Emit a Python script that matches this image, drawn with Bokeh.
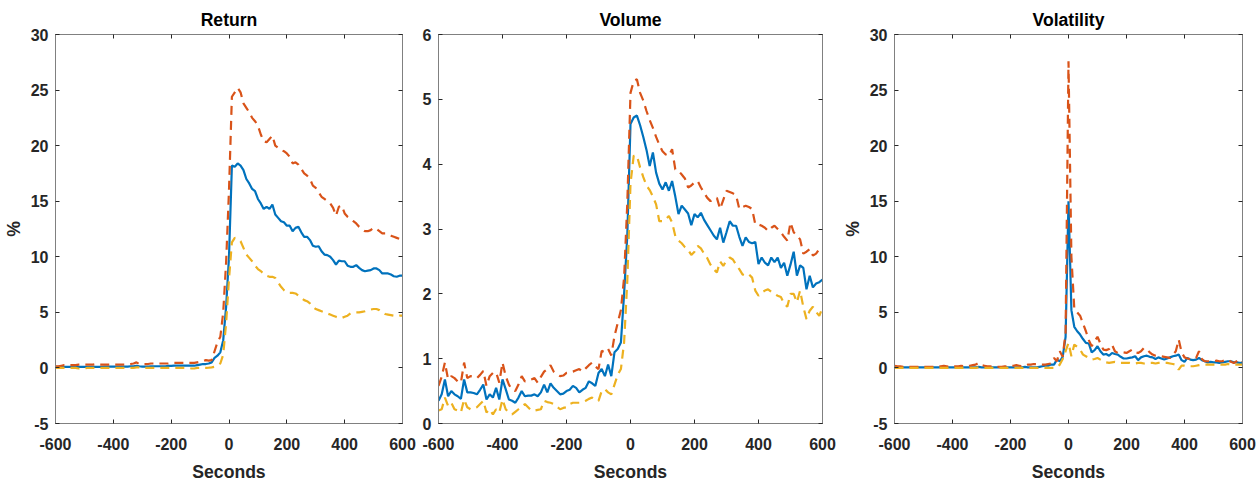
from bokeh.plotting import figure
from bokeh.layouts import row
from bokeh.models import LinearAxis, FixedTicker, Range1d, CustomJSTickFormatter
from bokeh.embed import file_html
from bokeh.resources import INLINE

# ---------------- data ----------------
seconds = list(range(-600, 601, 10))

x_ticks = [-600, -400, -200, 0, 200, 400, 600]
pct_ticks = [-5, 0, 5, 10, 15, 20, 25, 30]
vol_ticks = [0, 1, 2, 3, 4, 5, 6]

titles = ["Return", "Volume", "Volatility"]

return_mean = [
    0.10, 0.10, 0.10, 0.10, 0.10, 0.10, 0.10, 0.10, 0.10, 0.10,
    0.10, 0.10, 0.10, 0.10, 0.10, 0.10, 0.10, 0.12, 0.12, 0.12,
    0.12, 0.12, 0.12, 0.12, 0.12, 0.12, 0.15, 0.15, 0.20, 0.15,
    0.12, 0.12, 0.12, 0.15, 0.15, 0.15, 0.15, 0.15, 0.15, 0.18,
    0.18, 0.20, 0.20, 0.20, 0.20, 0.20, 0.20, 0.20, 0.20, 0.25,
    0.30, 0.35, 0.35, 0.40, 0.50, 0.90, 1.10, 1.40, 2.50, 5.50,
    10.0, 18.2, 18.1, 18.4, 18.2, 17.8, 17.0, 16.6, 16.1, 15.9,
    15.2, 14.8, 14.3, 14.5, 14.3, 14.7, 13.8, 13.5, 13.2, 13.1,
    12.8, 12.8, 12.3, 12.6, 12.7, 12.2, 11.8, 11.8, 11.5, 11.0,
    10.9, 10.95, 10.5, 10.2, 10.15, 10.0, 9.7, 9.3, 9.65, 9.6,
    9.6, 9.2, 9.1, 9.1, 9.25, 9.0, 8.8, 8.7, 8.75, 8.8,
    8.95, 8.95, 8.8, 8.5, 8.5, 8.5, 8.4, 8.25, 8.2, 8.3, 8.3,
]
return_upper = [
    0.15, 0.15, 0.20, 0.25, 0.25, 0.25, 0.25, 0.25, 0.30, 0.30,
    0.30, 0.30, 0.30, 0.30, 0.35, 0.30, 0.30, 0.30, 0.30, 0.30,
    0.30, 0.30, 0.30, 0.30, 0.30, 0.30, 0.35, 0.40, 0.50, 0.35,
    0.35, 0.35, 0.35, 0.40, 0.40, 0.40, 0.40, 0.40, 0.40, 0.40,
    0.45, 0.45, 0.45, 0.45, 0.45, 0.45, 0.45, 0.45, 0.45, 0.50,
    0.55, 0.60, 0.70, 0.65, 0.70, 1.50, 2.30, 2.80, 5.00, 9.50,
    16.0, 24.4, 24.8, 25.2, 24.8, 23.8, 23.4, 23.0, 22.5, 22.2,
    21.8, 21.0, 20.4, 20.3, 20.6, 20.9, 20.0, 19.8, 19.6, 19.5,
    19.3, 19.0, 18.4, 18.5, 18.3, 17.9, 17.5, 17.3, 17.0, 16.4,
    16.2, 15.8, 15.4, 15.2, 15.0, 14.8, 14.4, 13.7, 14.5, 14.6,
    13.9, 13.6, 13.4, 13.2, 13.0, 12.7, 12.5, 12.3, 12.3, 12.4,
    12.6, 12.5, 12.3, 12.1, 12.1, 12.0, 11.9, 11.8, 11.7, 11.6, 11.7,
]
return_lower = [
    0.00, 0.00, 0.00, 0.00, 0.00, 0.00, 0.00, 0.00, -0.05, -0.05,
    -0.05, 0.00, 0.00, 0.00, 0.00, 0.00, 0.00, 0.00, 0.00, 0.00,
    0.00, 0.00, 0.00, 0.00, 0.00, 0.00, 0.00, 0.00, 0.05, 0.05,
    0.00, 0.00, 0.00, 0.00, 0.00, 0.00, 0.00, 0.00, 0.00, 0.00,
    0.00, 0.00, 0.00, 0.00, 0.00, 0.00, 0.00, -0.05, -0.05, 0.00,
    0.00, 0.00, 0.00, 0.02, 0.05, 0.10, 0.20, 0.40, 1.20, 4.00,
    8.0, 11.3, 11.7, 11.6, 11.4, 10.8, 10.2, 9.9, 9.6, 9.2,
    8.9, 8.7, 8.5, 8.3, 8.2, 8.2, 8.1, 7.7, 7.3, 7.0,
    6.8, 6.75, 6.75, 6.7, 6.5, 6.3, 6.1, 6.0, 5.8, 5.5,
    5.3, 5.2, 5.1, 5.0, 4.9, 4.8, 4.7, 4.6, 4.5, 4.5,
    4.6, 4.7, 4.9, 4.95, 5.0, 5.0, 5.05, 5.1, 5.2, 5.25,
    5.3, 5.3, 5.2, 5.0, 4.85, 4.8, 4.75, 4.7, 4.65, 4.7, 4.7,
]

volume_mean = [
    0.35, 0.45, 0.68, 0.42, 0.50, 0.45, 0.42, 0.38, 0.68, 0.48,
    0.48, 0.47, 0.45, 0.52, 0.60, 0.37, 0.45, 0.40, 0.55, 0.37,
    0.68, 0.53, 0.37, 0.35, 0.32, 0.40, 0.50, 0.42, 0.43, 0.43,
    0.45, 0.42, 0.48, 0.60, 0.48, 0.62, 0.55, 0.50, 0.45, 0.46,
    0.50, 0.52, 0.58, 0.55, 0.48, 0.52, 0.55, 0.65, 0.62, 0.58,
    0.78, 0.84, 0.73, 0.91, 0.73, 1.10, 1.15, 1.25, 2.00, 2.90,
    4.62, 4.72, 4.75, 4.60, 4.42, 4.22, 3.97, 4.18, 3.87, 3.70,
    3.61, 3.72, 3.59, 3.74, 3.50, 3.23, 3.36, 3.30, 3.24, 3.06,
    3.23, 3.18, 3.25, 3.14, 3.06, 2.98, 2.90, 2.84, 3.02, 2.79,
    2.95, 3.12, 3.05, 3.05, 2.88, 2.74, 2.87, 2.80, 2.78, 2.80,
    2.46, 2.56, 2.48, 2.44, 2.56, 2.49, 2.56, 2.40, 2.48, 2.28,
    2.45, 2.65, 2.28, 2.44, 2.40, 2.07, 2.28, 2.10, 2.16, 2.18, 2.22,
]
volume_upper = [
    0.58, 0.72, 0.94, 0.68, 0.73, 0.70, 0.65, 0.63, 0.94, 0.70,
    0.73, 0.72, 0.70, 0.75, 0.81, 0.58, 0.73, 0.78, 0.79, 0.63,
    0.94, 0.73, 0.60, 0.52, 0.50, 0.60, 0.73, 0.65, 0.66, 0.68,
    0.70, 0.63, 0.72, 0.80, 0.84, 0.90, 0.80, 0.76, 0.73, 0.74,
    0.78, 0.79, 0.80, 0.82, 0.84, 0.80, 0.85, 0.90, 0.94, 0.88,
    0.84, 1.12, 1.10, 1.15, 1.05, 1.35, 1.55, 1.75, 2.25, 3.40,
    5.10, 5.28, 5.31, 5.10, 4.98, 4.82, 4.68, 4.56, 4.42, 4.30,
    4.20, 4.15, 4.13, 4.23, 3.92, 3.90, 3.84, 3.78, 3.64, 3.67,
    3.72, 3.74, 3.64, 3.56, 3.48, 3.43, 3.46, 3.48, 3.31, 3.45,
    3.59, 3.57, 3.55, 3.52, 3.31, 3.34, 3.36, 3.34, 3.31, 3.07,
    3.07, 3.05, 3.02, 2.97, 3.02, 3.05, 3.00, 2.95, 2.88, 2.82,
    3.10, 2.95, 2.90, 2.84, 2.62, 2.65, 2.69, 2.59, 2.62, 2.69, 2.71,
]
volume_lower = [
    0.20, 0.22, 0.40, 0.27, 0.32, 0.22, 0.20, 0.17, 0.37, 0.25,
    0.22, 0.23, 0.25, 0.30, 0.35, 0.17, 0.22, 0.14, 0.22, 0.17,
    0.37, 0.22, 0.17, 0.14, 0.18, 0.22, 0.26, 0.30, 0.25, 0.20,
    0.20, 0.21, 0.22, 0.35, 0.33, 0.32, 0.30, 0.26, 0.22, 0.24,
    0.25, 0.30, 0.32, 0.32, 0.32, 0.33, 0.35, 0.38, 0.40, 0.37,
    0.35, 0.50, 0.53, 0.48, 0.45, 0.60, 0.75, 0.84, 1.25, 2.20,
    3.70, 4.13, 4.13, 3.95, 3.80, 3.67, 3.60, 3.50, 3.38, 3.12,
    3.12, 3.15, 3.20, 3.10, 2.89, 2.82, 2.78, 2.72, 2.68, 2.60,
    2.65, 2.74, 2.70, 2.62, 2.55, 2.45, 2.38, 2.33, 2.50, 2.43,
    2.52, 2.56, 2.53, 2.45, 2.38, 2.30, 2.28, 2.30, 2.25, 2.05,
    1.97, 2.02, 2.05, 2.07, 2.03, 2.00, 1.97, 1.95, 1.85, 1.80,
    2.00, 2.00, 1.87, 2.05, 1.80, 1.61, 1.74, 1.80, 1.72, 1.66, 1.79,
]

volatility_mean = [
    0.05, 0.05, 0.05, 0.05, 0.05, 0.05, 0.05, 0.05, 0.05, 0.05,
    0.05, 0.05, 0.05, 0.05, 0.05, 0.05, 0.05, 0.05, 0.05, 0.05,
    0.05, 0.05, 0.05, 0.05, 0.05, 0.05, 0.05, 0.05, 0.05, 0.10,
    0.05, 0.05, 0.05, 0.05, 0.05, 0.05, 0.05, 0.05, 0.05, 0.05,
    0.05, 0.05, 0.05, 0.05, 0.05, 0.10, 0.05, 0.05, 0.05, 0.05,
    0.10, 0.15, 0.20, 0.20, 0.30, 0.30, 0.75, 0.60, 1.00, 2.80,
    15.0, 5.2, 3.7, 3.3, 3.0, 2.6, 2.25, 2.2, 1.4, 1.6,
    1.95, 1.5, 1.2, 1.25, 1.1, 1.35, 1.25, 1.2, 1.0, 0.85,
    0.85, 0.9, 0.95, 1.05, 0.7, 0.95, 1.05, 1.1, 1.0, 0.95,
    0.8, 0.95, 0.85, 0.75, 0.85, 0.95, 1.05, 1.1, 1.2, 0.7,
    0.55, 0.9, 0.75, 0.7, 0.75, 0.9, 0.7, 0.6, 0.5, 0.55,
    0.5, 0.5, 0.45, 0.5, 0.55, 0.6, 0.6, 0.5, 0.5, 0.45, 0.45,
]
volatility_upper = [
    0.20, 0.15, 0.15, 0.10, 0.10, 0.10, 0.10, 0.10, 0.10, 0.10,
    0.10, 0.10, 0.10, 0.10, 0.10, 0.15, 0.15, 0.20, 0.15, 0.10,
    0.10, 0.15, 0.15, 0.20, 0.15, 0.15, 0.20, 0.25, 0.30, 0.45,
    0.25, 0.20, 0.15, 0.15, 0.10, 0.10, 0.10, 0.10, 0.15, 0.15,
    0.15, 0.20, 0.25, 0.20, 0.15, 0.20, 0.30, 0.30, 0.35, 0.35,
    0.30, 0.30, 0.30, 0.35, 0.40, 0.90, 0.60, 1.50, 1.00, 3.20,
    27.6, 10.0, 5.3, 5.0, 4.7, 4.0, 3.3, 2.5, 1.95, 2.4,
    2.8, 2.2, 1.65, 1.6, 1.7, 2.1, 1.5, 1.35, 1.35, 1.4,
    1.35, 1.5, 1.65, 1.4, 1.35, 1.5, 1.8, 1.7, 1.4, 1.2,
    1.1, 1.05, 1.05, 1.0, 0.95, 0.9, 1.2, 1.5, 2.55, 1.4,
    0.95, 0.85, 0.8, 0.75, 0.9, 1.5, 0.8, 0.6, 0.6, 0.6,
    0.6, 0.65, 0.6, 0.6, 0.7, 0.75, 0.55, 0.45, 0.6, 0.8, 0.6,
]
volatility_lower = [
    0.00, 0.00, 0.00, 0.00, 0.00, 0.00, 0.00, 0.00, 0.00, 0.00,
    0.00, 0.00, 0.00, 0.00, 0.00, 0.00, 0.00, 0.00, 0.00, 0.00,
    0.00, 0.00, 0.00, 0.00, 0.00, 0.00, 0.00, 0.00, 0.00, 0.05,
    0.00, 0.00, 0.00, 0.00, 0.00, 0.00, 0.00, 0.00, 0.00, 0.00,
    0.00, 0.00, 0.00, 0.00, 0.00, 0.00, 0.00, 0.00, 0.00, 0.00,
    0.00, 0.00, 0.00, 0.00, 0.00, 0.00, 0.05, 0.30, 0.80, 1.50,
    2.25, 1.05, 2.1, 1.9, 1.65, 1.2, 1.05, 0.9, 0.75, 0.8,
    0.9, 0.75, 0.6, 0.5, 0.45, 0.5, 0.55, 0.5, 0.45, 0.45,
    0.45, 0.45, 0.4, 0.4, 0.45, 0.45, 0.4, 0.45, 0.45, 0.45,
    0.4, 0.45, 0.45, 0.45, 0.45, 0.4, 0.35, 0.3, -0.15, 0.2,
    0.2, 0.15, 0.15, 0.15, 0.2, 0.25, 0.3, 0.3, 0.3, 0.3,
    0.3, 0.3, 0.3, 0.3, 0.3, 0.35, 0.3, 0.3, 0.3, 0.3, 0.3,
]

# ---------------- style ----------------
BLUE = "#0072BD"
RED = "#D95319"
YELLOW = "#EDB120"
FONT = "Liberation Sans"
TEXT = "#262626"
AXLINE = "#808080"
TICK = "#262626"
FRAME_H = 389


def style_axis(ax, standoff):
    ax.formatter = CustomJSTickFormatter(code="return tick.toString()")
    ax.major_label_text_font = FONT
    ax.major_label_text_font_size = "16px"
    ax.major_label_text_font_style = "bold"
    ax.major_label_text_color = TEXT
    ax.major_label_standoff = standoff
    ax.major_tick_in = 4
    ax.major_tick_out = 0
    ax.minor_tick_line_color = None
    ax.axis_line_color = AXLINE
    ax.major_tick_line_color = TICK
    ax.axis_label_text_font = FONT
    ax.axis_label_text_font_size = "17.6px"
    ax.axis_label_text_font_style = "bold"
    ax.axis_label_text_color = TEXT


def box_axis(p, side, ticks):
    ax = LinearAxis(ticker=FixedTicker(ticks=ticks),
                    formatter=CustomJSTickFormatter(code="return ''"))
    ax.major_label_text_font_size = "0px"
    ax.major_label_standoff = 0
    ax.major_tick_in = 4
    ax.major_tick_out = 0
    ax.minor_tick_line_color = None
    ax.axis_line_color = AXLINE
    ax.major_tick_line_color = TICK
    p.add_layout(ax, side)


def panel(title, mean, upper, lower, y_lo, y_hi, y_ticks, ylabel,
          frame_w, b_left, b_right):
    p = figure(frame_width=frame_w, frame_height=FRAME_H,
               min_border_left=b_left, min_border_right=b_right,
               min_border_top=34, min_border_bottom=61,
               x_range=Range1d(-600, 600), y_range=Range1d(y_lo, y_hi),
               output_backend="svg", toolbar_location=None, title=title)
    p.title.align = "center"
    p.title.text_font = FONT
    p.title.text_font_size = "17.6px"
    p.title.text_font_style = "bold"
    p.title.text_color = "#000000"
    p.title.standoff = 9
    p.grid.visible = False
    p.outline_line_color = AXLINE
    p.background_fill_color = "white"
    p.border_fill_color = "white"

    p.xaxis.ticker = FixedTicker(ticks=x_ticks)
    p.yaxis.ticker = FixedTicker(ticks=y_ticks)
    style_axis(p.xaxis[0], 14)
    style_axis(p.yaxis[0], 7)
    p.xaxis.axis_label = "Seconds"
    p.xaxis.axis_label_standoff = 9
    if ylabel:
        p.yaxis.axis_label = ylabel
        p.yaxis.axis_label_standoff = 4

    box_axis(p, "above", x_ticks)
    box_axis(p, "right", y_ticks)

    p.line(seconds, mean, line_color=BLUE, line_width=2.2)
    p.line(seconds, upper, line_color=RED, line_width=2.2, line_dash="9 6")
    p.line(seconds, lower, line_color=YELLOW, line_width=2.2, line_dash="9 6")
    return p


p1 = panel(titles[0], return_mean, return_upper, return_lower, -5, 30,
           pct_ticks, "%", 347, 49, 17)
p2 = panel(titles[1], volume_mean, volume_upper, volume_lower, 0, 6,
           vol_ticks, None, 384, 17, 17)
p3 = panel(titles[2], volatility_mean, volatility_upper, volatility_lower,
           -5, 30, pct_ticks, "%", 348, 50, 16)

layout = row(p1, p2, p3)

open("out.html", "w").write(file_html(layout, INLINE))
